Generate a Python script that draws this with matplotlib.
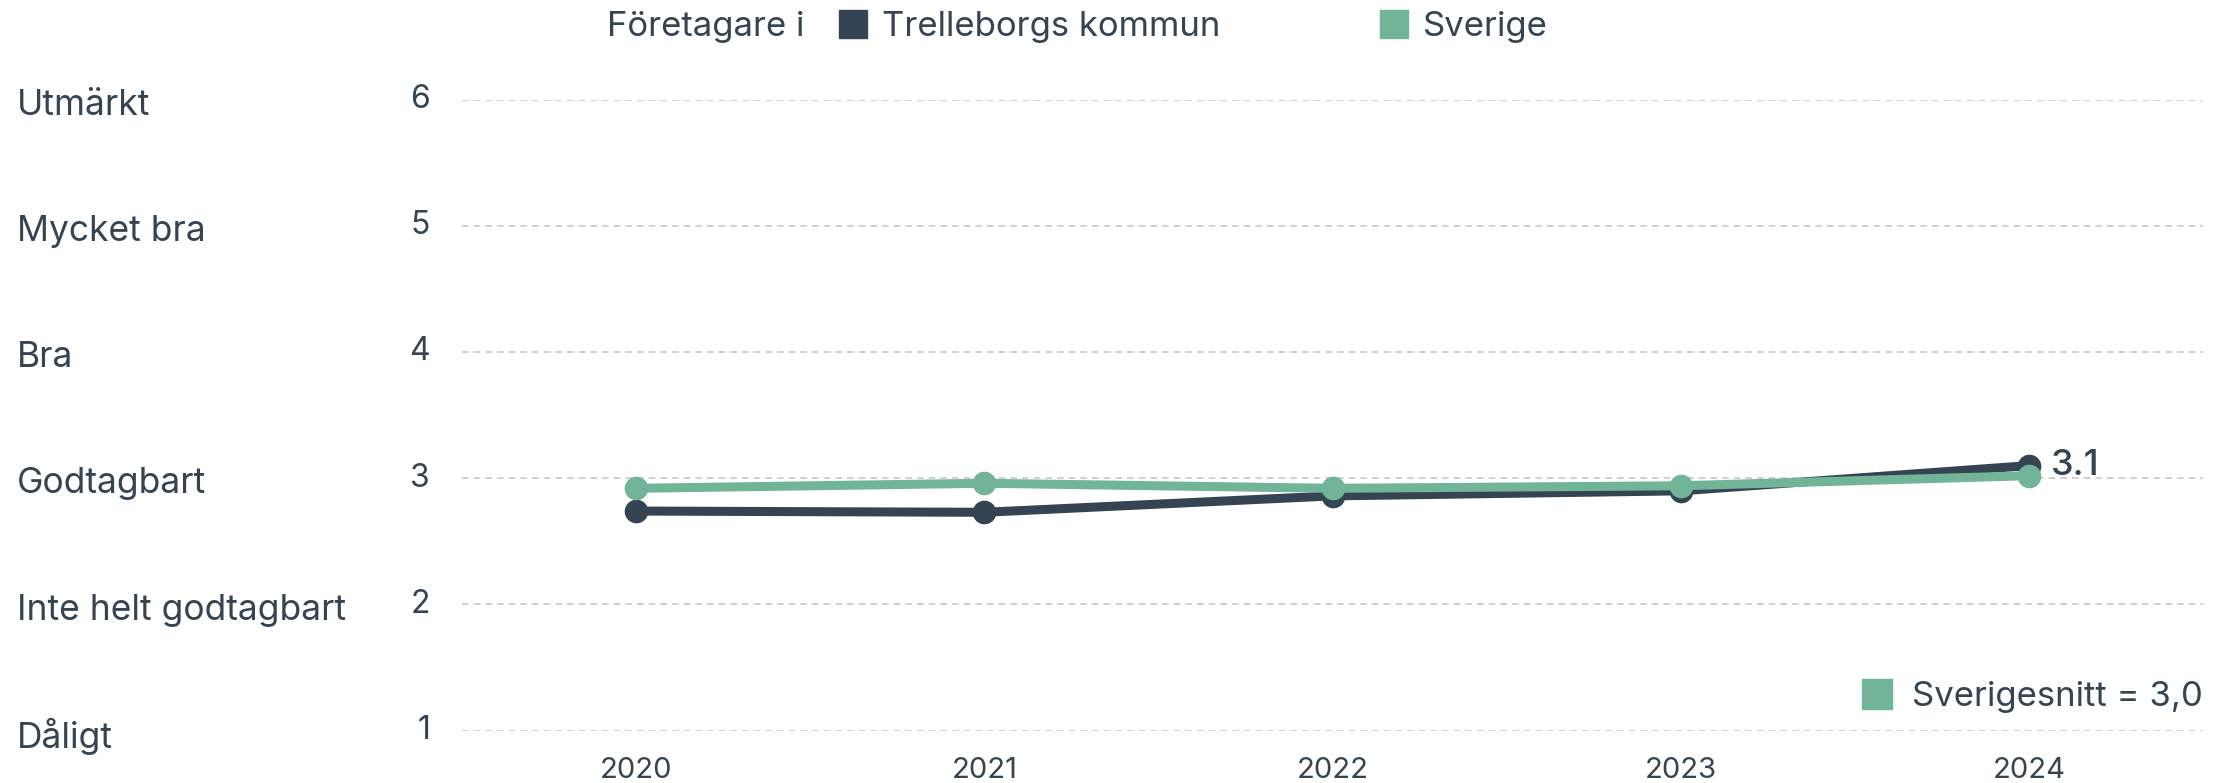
import matplotlib
matplotlib.use("Agg")
from matplotlib import pyplot as plt
from matplotlib.lines import Line2D
from matplotlib import transforms

plt.rcParams['font.family'] = ['Inter', 'DejaVu Sans']

# data
years = [2020, 2021, 2022, 2023, 2024]
trelleborg = [2.74, 2.73, 2.86, 2.90, 3.10]
sverige = [2.92, 2.96, 2.92, 2.94, 3.02]
scale_vals = [1, 2, 3, 4, 5, 6]
scale_names = ["Dåligt", "Inte helt godtagbart", "Godtagbart", "Bra", "Mycket bra", "Utmärkt"]
sverigesnitt = "3,0"

dark = "#344453"
green = "#72b497"

fig = plt.figure(figsize=(22.29, 7.83), dpi=100)
ax = fig.add_axes([462/2229, 1 - 730.7/783, (2203-462)/2229, (730.7-99.5)/783])

ax.plot(years, trelleborg, color=dark, lw=6.5, marker='o', ms=16, zorder=3, clip_on=False)
ax.plot(years, sverige, color=green, lw=6.5, marker='o', ms=16, zorder=4, clip_on=False)

ax.set_xlim(2019.5, 2024.5)
ax.set_ylim(1, 6)
ax.set_yticks(scale_vals)
ax.set_yticklabels([])
ax.set_xticks(years)
ax.set_xticklabels([str(y) for y in years], fontsize=21, color=dark)
ax.tick_params(axis='both', length=0)
ax.tick_params(axis='x', pad=19)
ax.grid(axis='y', color='#c8c8c8', linestyle=(0, (4, 3)), lw=1.2)
for s in ax.spines.values():
    s.set_visible(False)

# y tick numbers and category names
trans = transforms.blended_transform_factory(fig.transFigure, ax.transData)
name_trans = trans + transforms.ScaledTranslation(0, -4/72, fig.dpi_scale_trans)
for v, name in zip(scale_vals, scale_names):
    fig.text(430/2229, v, str(v), transform=trans, ha='right', va='center',
             fontsize=23, color=dark)
    fig.text(17/2229, v, name, transform=name_trans, ha='left', va='center',
             fontsize=25.5, color=dark)

# end label
ax.annotate(f"{trelleborg[-1]:.1f}", (years[-1], trelleborg[-1]), xytext=(16, 0),
            textcoords='offset points', ha='left', va='center', fontsize=26,
            color=dark, fontweight='medium')

# top legend
ytop = 1 - 27/783
fig.text(607/2229, ytop, "Företagare i", ha='left', va='center', fontsize=25, color=dark)
for lab, col, xl in [("Trelleborgs kommun", dark, 839), ("Sverige", green, 1380)]:
    fig.legend([Line2D([], [], ls='none', marker='s', ms=20, color=col)], [lab],
               loc='center left', bbox_to_anchor=(xl/2229, ytop), frameon=False,
               fontsize=25, labelcolor=dark, handletextpad=0.45,
               handlelength=0.8, borderaxespad=0, borderpad=0)

# bottom right legend
ax.legend([Line2D([], [], ls='none', marker='s', ms=22, color=green)],
          [f"Sverigesnitt = {sverigesnitt}"], loc='center right',
          bbox_to_anchor=(2203/2229, 1 - 697/783), bbox_transform=fig.transFigure,
          frameon=False, fontsize=25, labelcolor=dark, handletextpad=0.5,
          handlelength=1.0, borderaxespad=0, borderpad=0)

fig.savefig("out.png", dpi=100, facecolor='white')
